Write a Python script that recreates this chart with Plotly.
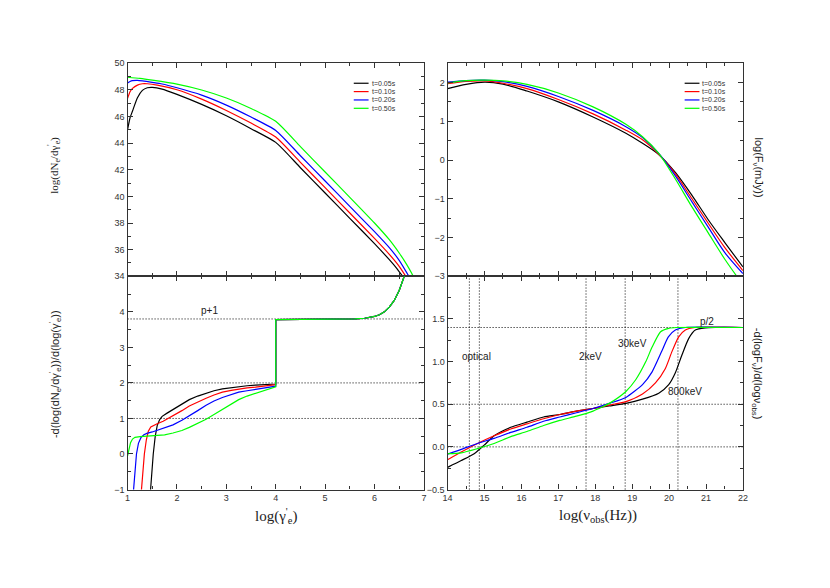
import plotly.graph_objects as go

# 页面 body 有 8px 边距, 图按此缩小并平移
OFF = 8
W, H = 830 - 2 * OFF, 588 - 2 * OFF

labels = ["t=0.05s", "t=0.10s", "t=0.20s", "t=0.50s"]
colors = ["#000000", "#ff0000", "#0000ff", "#00ff00"]

# ---- 左上: log(dN_e/dγ'_e) vs log(γ'_e)
spec_x = [
    [1.0, 1.05, 1.1, 1.2, 1.3, 1.4, 1.5, 1.7, 2.0, 2.5, 3.0, 3.5, 4.0, 4.5, 5.0, 5.5, 6.0, 6.3, 6.45, 6.6],
    [1.0, 1.05, 1.1, 1.2, 1.3, 1.4, 1.6, 2.0, 2.5, 3.0, 3.5, 4.0, 4.5, 5.0, 5.5, 6.0, 6.3, 6.5, 6.66],
    [1.0, 1.05, 1.1, 1.2, 1.3, 1.5, 1.7, 2.0, 2.5, 3.0, 3.5, 4.0, 4.5, 5.0, 5.5, 6.0, 6.3, 6.5, 6.72],
    [1.0, 1.25, 1.5, 2.0, 2.5, 3.0, 3.5, 4.0, 4.5, 5.0, 5.5, 6.0, 6.3, 6.5, 6.65, 6.75, 6.81],
]
spec_y = [
    [45.0, 45.9, 46.4, 47.4, 47.95, 48.15, 48.18, 48.05, 47.65, 46.9, 46.05, 45.08, 44.05, 42.15, 40.25, 38.35, 36.45, 35.25, 34.6, 33.85],
    [47.35, 47.85, 48.1, 48.35, 48.45, 48.45, 48.35, 48.0, 47.3, 46.45, 45.5, 44.45, 42.55, 40.65, 38.75, 36.85, 35.65, 34.75, 33.85],
    [48.5, 48.62, 48.68, 48.7, 48.66, 48.55, 48.43, 48.15, 47.6, 46.85, 45.95, 44.95, 43.05, 41.15, 39.25, 37.35, 36.15, 35.2, 33.85],
    [48.94, 48.85, 48.72, 48.42, 47.98, 47.38, 46.6, 45.63, 43.73, 41.83, 39.93, 38.0, 36.75, 35.75, 34.9, 34.25, 33.8],
]

# ---- 左下: -d(log(dN_e/dγ'_e))/d(log(γ'_e))
slope_x = [
    [1.455, 1.48, 1.52, 1.56, 1.60, 1.65, 1.70, 1.8, 1.92, 2.1, 2.25, 2.42, 2.59, 2.75, 2.92, 3.1, 3.25, 3.42, 3.59, 3.8, 4.0],
    [1.27, 1.30, 1.34, 1.38, 1.42, 1.47, 1.52, 1.6, 1.72, 1.92, 2.1, 2.25, 2.42, 2.59, 2.75, 2.92, 3.1, 3.25, 3.42, 3.59, 3.8, 4.0],
    [1.11, 1.14, 1.18, 1.22, 1.27, 1.33, 1.39, 1.5, 1.59, 1.75, 1.92, 2.1, 2.25, 2.42, 2.59, 2.75, 2.92, 3.1, 3.25, 3.42, 3.59, 3.8, 4.0],
    [1.0, 1.03, 1.06, 1.1, 1.15, 1.25, 1.4, 1.59, 1.75, 1.92, 2.1, 2.25, 2.42, 2.59, 2.75, 2.92, 3.1, 3.25, 3.42, 3.59, 3.8, 4.0],
]
slope_y = [
    [-1.2, -0.6, 0.0, 0.5, 0.8, 0.97, 1.06, 1.15, 1.25, 1.4, 1.53, 1.63, 1.71, 1.78, 1.83, 1.87, 1.89, 1.92, 1.94, 1.96, 1.97],
    [-1.2, -0.6, 0.0, 0.4, 0.64, 0.76, 0.8, 0.85, 0.92, 1.07, 1.22, 1.35, 1.47, 1.57, 1.66, 1.74, 1.79, 1.83, 1.86, 1.88, 1.92, 1.95],
    [-1.2, -0.6, 0.0, 0.3, 0.46, 0.54, 0.58, 0.62, 0.66, 0.73, 0.82, 0.95, 1.07, 1.22, 1.37, 1.49, 1.59, 1.68, 1.74, 1.78, 1.82, 1.87, 1.91],
    [-0.05, 0.15, 0.32, 0.42, 0.47, 0.49, 0.5, 0.51, 0.54, 0.59, 0.66, 0.75, 0.86, 0.98, 1.11, 1.25, 1.4, 1.53, 1.63, 1.71, 1.81, 1.89],
]
# 4.0 之后四条曲线重合
slope_tail_x = [4.0, 4.5, 5.0, 5.6, 5.8, 6.0, 6.1, 6.2, 6.3, 6.4, 6.5, 6.58, 6.64]
slope_tail_y = [3.78, 3.78, 3.78, 3.8, 3.82, 3.87, 3.92, 4.0, 4.13, 4.32, 4.6, 4.9, 5.15]
slope_hlines = [1.0, 2.0, 3.8]

# ---- 右上: log(F_ν(mJy)) vs log(ν_obs)
flux_x = [14.0, 14.5, 15.0, 15.5, 16.15, 17.0, 17.94, 18.83, 19.28, 19.72, 20.17, 20.62, 21.06, 21.51, 22.0]
flux_y = [
    [1.84, 1.95, 2.01, 1.96, 1.78, 1.50, 1.11, 0.69, 0.43, 0.14, -0.32, -0.91, -1.54, -2.13, -2.76],
    [1.97, 2.03, 2.04, 1.98, 1.84, 1.56, 1.19, 0.77, 0.52, 0.15, -0.36, -1.0, -1.63, -2.26, -2.85],
    [2.01, 2.05, 2.06, 2.02, 1.90, 1.64, 1.28, 0.86, 0.58, 0.17, -0.41, -1.08, -1.73, -2.39, -2.93],
    [1.99, 2.05, 2.06, 2.04, 1.95, 1.73, 1.37, 0.92, 0.60, 0.17, -0.49, -1.21, -1.88, -2.56, -3.22],
]

# ---- 右下: -d(logF_ν)/d(logν_obs)
index_x = [
    [14.0, 14.37, 14.72, 14.99, 15.26, 15.71, 16.15, 16.6, 17.04, 17.49, 17.94, 18.38, 18.83, 19.28, 19.72, 19.99, 20.17, 20.35, 20.53, 20.71, 20.98, 21.25, 22.0],
    [14.0, 14.37, 14.81, 15.26, 15.71, 16.15, 16.6, 17.04, 17.49, 17.94, 18.38, 18.83, 19.28, 19.63, 19.9, 20.08, 20.26, 20.44, 20.7, 22.0],
    [14.0, 14.37, 14.81, 15.26, 15.71, 16.15, 16.6, 17.04, 17.49, 17.94, 18.38, 18.83, 19.28, 19.54, 19.8, 19.98, 20.17, 20.44, 22.0],
    [14.0, 14.37, 14.81, 15.26, 15.71, 16.15, 16.6, 17.04, 17.49, 17.94, 18.2, 18.38, 18.83, 19.1, 19.37, 19.54, 19.77, 19.99, 20.2, 22.0],
]
index_y = [
    [-0.24, -0.16, -0.08, 0.02, 0.13, 0.23, 0.29, 0.35, 0.38, 0.42, 0.45, 0.48, 0.51, 0.56, 0.63, 0.73, 0.87, 1.08, 1.27, 1.37, 1.395, 1.4, 1.4],
    [-0.15, -0.06, 0.04, 0.13, 0.21, 0.27, 0.33, 0.38, 0.42, 0.45, 0.49, 0.53, 0.62, 0.75, 0.92, 1.12, 1.29, 1.37, 1.4, 1.4],
    [-0.085, -0.03, 0.04, 0.1, 0.17, 0.23, 0.3, 0.35, 0.4, 0.45, 0.51, 0.58, 0.73, 0.88, 1.12, 1.29, 1.37, 1.4, 1.4],
    [-0.08, -0.07, -0.02, 0.04, 0.12, 0.18, 0.25, 0.31, 0.36, 0.42, 0.47, 0.51, 0.65, 0.79, 1.0, 1.17, 1.35, 1.39, 1.4, 1.4],
]
index_hlines = [0.0, 0.5, 1.4]
band_vlines = [14.59, 14.86, 17.75, 18.81, 20.24]
band_text = ["optical", "2keV", "30keV", "800keV", "p/2"]
band_text_x = [14.77, 17.88, 19.01, 20.44, 21.02]
band_text_y = [1.06, 1.06, 1.21, 0.65, 1.47]


def px(x):
    return (x - OFF) / W


def py(y):
    return 1 - (y - OFF) / H


fig = go.Figure()

for i in range(4):
    fig.add_trace(go.Scatter(x=spec_x[i], y=spec_y[i], mode="lines", xaxis="x", yaxis="y",
                             line=dict(color=colors[i], width=1.2, shape="spline", smoothing=0.6),
                             showlegend=False))
for i in range(4):
    fig.add_trace(go.Scatter(x=slope_x[i] + slope_tail_x, y=slope_y[i] + slope_tail_y, mode="lines",
                             xaxis="x2", yaxis="y2",
                             line=dict(color=colors[i], width=1.2), showlegend=False))
for i in range(4):
    fig.add_trace(go.Scatter(x=flux_x, y=flux_y[i], mode="lines", xaxis="x3", yaxis="y3",
                             line=dict(color=colors[i], width=1.2, shape="spline", smoothing=0.8),
                             showlegend=False))
for i in range(4):
    fig.add_trace(go.Scatter(x=index_x[i], y=index_y[i], mode="lines", xaxis="x4", yaxis="y4",
                             line=dict(color=colors[i], width=1.2, shape="spline", smoothing=0.6),
                             showlegend=False))

# 点线
dot = dict(color="#000000", width=1, dash="1px,2px")
for v in slope_hlines:
    fig.add_shape(type="line", xref="x2 domain", yref="y2", x0=0, x1=1, y0=v, y1=v, line=dot, layer="below")
for v in index_hlines:
    fig.add_shape(type="line", xref="x4 domain", yref="y4", x0=0, x1=1, y0=v, y1=v, line=dot, layer="below")
for v in band_vlines:
    fig.add_shape(type="line", xref="x4", yref="y4 domain", x0=v, x1=v, y0=0, y1=1, line=dot, layer="below")

txt_font = dict(family="Liberation Sans, Arial", size=10, color="#222")
fig.add_annotation(x=2.65, y=4.05, xref="x2", yref="y2", text="p+1", showarrow=False, font=txt_font)
for t, xx, yy in zip(band_text, band_text_x, band_text_y):
    fig.add_annotation(x=xx, y=yy, xref="x4", yref="y4", text=t, showarrow=False, font=txt_font)

# 图例 (手绘, 行距较小)
leg_rows = [79.5, 88, 96.5, 105]
for lx in [353, 688]:
    for i in range(4):
        fig.add_shape(type="line", xref="paper", yref="paper",
                      x0=px(lx), x1=px(lx + 15), y0=py(leg_rows[i]), y1=py(leg_rows[i]),
                      line=dict(color=colors[i], width=1.2))
        fig.add_annotation(x=px(lx + 16), y=py(leg_rows[i]), xref="paper", yref="paper",
                           text=labels[i], showarrow=False, xanchor="left", yanchor="middle",
                           font=dict(family="Liberation Sans, Arial", size=7, color="#333"))

# 坐标轴标题
serif = dict(family="Liberation Serif, Times New Roman", size=11, color="#222")
sans = dict(family="Liberation Sans, Arial", size=11, color="#222")
big_serif = dict(family="Liberation Serif, Times New Roman", size=15, color="#222")
titles = [
    (50, 163, -90, "log(dN<sub>e</sub>/dγ<sup>'</sup><sub>e</sub>)", serif),
    (50, 375, -90, "-d(log(dN<sub>e</sub>/dγ<sup>'</sup><sub>e</sub>))/d(log(γ<sup>'</sup><sub>e</sub>))", sans),
    (762, 165, 90, "log(F<sub>ν</sub>(mJy))", sans),
    (762, 375, 90, "-d(logF<sub>ν</sub>)/d(logν<sub>obs</sub>)", sans),
    (274, 520, 0, "log(γ<sup>'</sup><sub>e</sub>)", big_serif),
    (600, 520, 0, "log(ν<sub>obs</sub>(Hz))", big_serif),
]
for tx, ty, ang, text, f in titles:
    fig.add_annotation(x=px(tx), y=py(ty), xref="paper", yref="paper", textangle=ang,
                       xanchor="center", yanchor="middle", showarrow=False, text=text, font=f)


def ax(domain, anchor, rng, dtick, minor, labels_on=True, **kw):
    d = dict(domain=domain, anchor=anchor, range=rng, dtick=dtick,
             showline=True, linecolor="#333", linewidth=1.3, mirror="ticks",
             ticks="inside", ticklen=5, tickwidth=1, tickcolor="#333",
             minor=dict(ticks="inside", ticklen=3, dtick=minor, tickcolor="#333"),
             showgrid=False, zeroline=False, showticklabels=labels_on,
             tickfont=dict(family="Liberation Sans, Arial", size=9, color="#333"))
    d.update(kw)
    return d


xl = [px(124), px(424)]
xr = [px(448), px(747)]
yt = [py(276), py(59)]
yb = [py(493), py(276)]

fig.update_layout(
    width=W, height=H,
    margin=dict(l=0, r=0, t=0, b=0),
    paper_bgcolor="white", plot_bgcolor="white",
    showlegend=False,
    xaxis=ax(xl, "y", [1, 7], 1, 0.5, labels_on=False),
    yaxis=ax(yt, "x", [34, 50], 2, 1),
    xaxis2=ax(xl, "y2", [1, 7], 1, 0.5),
    yaxis2=ax(yb, "x2", [-1, 5], 1, 0.5, tickvals=[-1, 0, 1, 2, 3, 4]),
    xaxis3=ax(xr, "y3", [14, 22], 1, 0.5, labels_on=False),
    yaxis3=ax(yt, "x3", [-3, 2.5], 1, 0.5, tickvals=[-3, -2, -1, 0, 1, 2]),
    xaxis4=ax(xr, "y4", [14, 22], 1, 0.5),
    yaxis4=ax(yb, "x4", [-0.5, 2.0], 0.5, 0.25, tickvals=[-0.5, 0, 0.5, 1.0, 1.5], tickformat=".1f"),
)

fig.write_html("out.html")
